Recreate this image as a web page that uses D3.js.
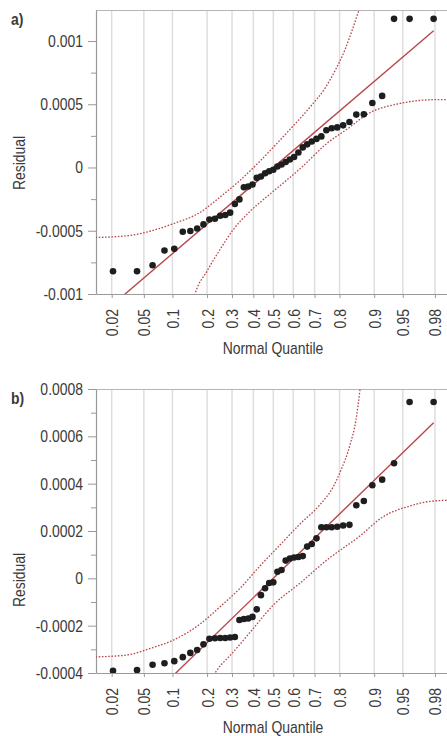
<!DOCTYPE html>
<html>
<head>
<meta charset="utf-8">
<title>Normal Quantile Plots</title>
<style>
  body { margin: 0; background: #fff; }
  svg text { font-family: "Liberation Sans", Arial, sans-serif; fill: #3a3a3a; }
</style>
</head>
<body>
<div id="chart"></div>
<script src="https://d3js.org/d3.v7.min.js"></script>
<script>
// x axis: normal quantile probabilities
const probTicks = [0.02, 0.05, 0.1, 0.2, 0.3, 0.4, 0.5, 0.6, 0.7, 0.8, 0.9, 0.95, 0.98];
const probLabels = ["0.02", "0.05", "0.1", "0.2", "0.3", "0.4", "0.5", "0.6", "0.7", "0.8", "0.9", "0.95", "0.98"];

// panel a) sorted residuals
const residualsA = [
  -0.00082, -0.00082, -0.000773, -0.000656, -0.000643, -0.000508, -0.000502, -0.000482,
  -0.00045, -0.000411, -0.000405, -0.000381, -0.000375, -0.000357, -0.000288, -0.000252,
  -0.000156, -0.00015, -0.000135, -0.000082, -0.000071, -0.000045, -0.00003, -0.000018,
  0.000008, 0.000024, 0.000044, 0.000063, 0.000083, 0.000119, 0.000159, 0.000183,
  0.000206, 0.000226, 0.000246, 0.000294, 0.00031, 0.000317, 0.000333, 0.00036,
  0.000418, 0.00042, 0.00051, 0.000566, 0.001175, 0.001175, 0.001175
];
const fitA = { mean: 0, sd: 0.000531 };
// confidence bands [normal quantile, residual]
const upperA = [
  [-2.26, -0.000553], [-1.86, -0.00054], [-1.57, -0.000504], [-1.27, -0.000444],
  [-0.93, -0.000355], [-0.68, -0.000235], [-0.42, -0.0001], [-0.17, 0.00005],
  [0, 0.00016], [0.21, 0.0003], [0.47, 0.00048], [0.66, 0.00063], [0.78, 0.00076],
  [0.91, 0.00093], [1.01, 0.0011], [1.09, 0.001246], [1.12, 0.0013]
];
const lowerA = [
  [-1.02, -0.00106], [-0.995, -0.001002], [-0.84, -0.000817], [-0.68, -0.000651],
  [-0.51, -0.000492], [-0.30, -0.000349], [-0.08, -0.00023], [0.17, -0.0001],
  [0.34, -0.00001], [0.68, 0.00019], [0.975, 0.00032], [1.19, 0.00042],
  [1.61, 0.000506], [2.03, 0.000536], [2.3, 0.000537]
];
const yTicksA = [-0.001, -0.0005, 0, 0.0005, 0.001];
const yLabelsA = ["-0.001", "-0.0005", "0", "0.0005", "0.001"];

// panel b) sorted residuals
const residualsB = [
  -0.000391, -0.000388, -0.000365, -0.000359, -0.00035, -0.000333, -0.000315, -0.000303,
  -0.000279, -0.000255, -0.000253, -0.000252, -0.000252, -0.00025, -0.000248, -0.000176,
  -0.000172, -0.00017, -0.000163, -0.000131, -0.000071, -0.000042, -0.00002, -0.000017,
  0.000028, 0.000035, 0.000075, 0.000084, 0.000088, 0.00009, 0.000094, 0.000134,
  0.000145, 0.000169, 0.000216, 0.000216, 0.000216, 0.000218, 0.000223, 0.000226,
  0.000309, 0.000327, 0.000393, 0.000417, 0.000486, 0.000745, 0.000745
];
const fitB = { mean: 0, sd: 0.000323 };
const upperB = [
  [-2.26, -0.000332], [-1.86, -0.000324], [-1.57, -0.000297], [-1.27, -0.000261],
  [-0.93, -0.000193], [-0.68, -0.000121], [-0.42, -0.000041], [-0.17, 0.000052],
  [0.085, 0.000141], [0.34, 0.00023], [0.59, 0.00031], [0.76, 0.000386],
  [0.85, 0.00045], [0.975, 0.000564], [1.05, 0.000669], [1.1, 0.000792], [1.12, 0.00085]
];
const lowerB = [
  [-0.78, -0.00042], [-0.716, -0.000388], [-0.51, -0.000312], [-0.26, -0.000214],
  [0, -0.000113], [0.34, -0.00002], [0.68, 0.000077], [1.1, 0.000179],
  [1.39, 0.000259], [1.74, 0.000306], [1.99, 0.000325], [2.3, 0.000331]
];
const yTicksB = [-0.0004, -0.0002, 0, 0.0002, 0.0004, 0.0006, 0.0008];
const yLabelsB = ["-0.0004", "-0.0002", "0", "0.0002", "0.0004", "0.0006", "0.0008"];

// inverse standard normal CDF (Acklam)
function qnorm(p) {
  const a = [-3.969683028665376e+01, 2.209460984245205e+02, -2.759285104469687e+02, 1.383577518672690e+02, -3.066479806614716e+01, 2.506628277459239e+00];
  const b = [-5.447609879822406e+01, 1.615858368580409e+02, -1.556989798598866e+02, 6.680131188771720e+01, -1.328068155288572e+01];
  const c = [-7.784894002430293e-03, -3.223964580411365e-01, -2.400758277161838e+00, -2.549732539343734e+00, 4.374664141464968e+00, 2.938163982698783e+00];
  const d = [7.784695709041462e-03, 3.224671290700398e-01, 2.445134137142996e+00, 3.754408661907416e+00];
  const pl = 0.02425;
  let q, r;
  if (p < pl) {
    q = Math.sqrt(-2 * Math.log(p));
    return (((((c[0]*q+c[1])*q+c[2])*q+c[3])*q+c[4])*q+c[5]) / ((((d[0]*q+d[1])*q+d[2])*q+d[3])*q+1);
  }
  if (p > 1 - pl) {
    q = Math.sqrt(-2 * Math.log(1 - p));
    return -(((((c[0]*q+c[1])*q+c[2])*q+c[3])*q+c[4])*q+c[5]) / ((((d[0]*q+d[1])*q+d[2])*q+d[3])*q+1);
  }
  q = p - 0.5; r = q * q;
  return (((((a[0]*r+a[1])*r+a[2])*r+a[3])*r+a[4])*r+a[5])*q / (((((b[0]*r+b[1])*r+b[2])*r+b[3])*r+b[4])*r+1);
}

const W = 447, H = 736;
const left = 96, zMin = -2.253, zMax = 2.3, pxPerZ = 78.7;
const red = "#b8474c";

let svg = d3.select("#chart").append("svg")
  .attr("width", W)
  .attr("height", H);

function drawPanel(opt) {
  let x = d3.scaleLinear()
    .domain([zMin, zMax])
    .range([left, left + (zMax - zMin) * pxPerZ]);
  let y = d3.scaleLinear()
    .domain(opt.yDomain)
    .range([opt.bottom, opt.top]);

  let g = svg.append("g");
  let zTicks = probTicks.map(qnorm);

  // vertical grid
  g.append("g").selectAll("line")
    .data(zTicks)
    .enter().append("line")
    .attr("x1", d => x(d)).attr("x2", d => x(d))
    .attr("y1", opt.top).attr("y2", opt.bottom)
    .attr("stroke", "#dedede")
    .attr("stroke-width", 1.5);

  // top border
  g.append("line")
    .attr("x1", left).attr("x2", W)
    .attr("y1", opt.top + 0.5).attr("y2", opt.top + 0.5)
    .attr("stroke", "#b5b5b5");

  // y axis with minor ticks
  let minor = d3.range(opt.yTicks.length - 1).map(i => (opt.yTicks[i] + opt.yTicks[i + 1]) / 2);
  if (opt.yDomain[1] > opt.yTicks[opt.yTicks.length - 1] + (opt.yTicks[1] - opt.yTicks[0]) / 2) {
    minor.push(opt.yTicks[opt.yTicks.length - 1] + (opt.yTicks[1] - opt.yTicks[0]) / 2);
  }
  g.append("g")
    .attr("transform", "translate(" + left + ",0)")
    .call(d3.axisLeft(y).tickValues(minor).tickSize(5).tickFormat("").tickSizeOuter(0))
    .call(a => a.select(".domain").remove())
    .call(a => a.selectAll("line").attr("stroke", "#999"));
  let ya = g.append("g")
    .attr("transform", "translate(" + left + ",0)")
    .call(d3.axisLeft(y).tickValues(opt.yTicks).tickSize(8).tickPadding(5).tickSizeOuter(0)
      .tickFormat((d, i) => opt.yLabels[i]));
  ya.select(".domain").attr("stroke", "#999").attr("stroke-width", 1.2);
  ya.selectAll("line").attr("stroke", "#999");
  ya.selectAll("text").attr("font-size", 17).attr("font-family", null).attr("fill", "#3a3a3a");

  // x axis
  let xa = g.append("g")
    .attr("transform", "translate(0," + opt.bottom + ")")
    .call(d3.axisBottom(x).tickValues(zTicks).tickSize(4).tickSizeOuter(0)
      .tickFormat((d, i) => probLabels[i]));
  xa.select(".domain").attr("stroke", "#999").attr("stroke-width", 1.2);
  xa.selectAll("line").attr("stroke", "#999");
  xa.selectAll("text")
    .attr("font-size", 17).attr("font-family", null).attr("fill", "#3a3a3a")
    .attr("transform", "rotate(-90)")
    .attr("text-anchor", "end")
    .attr("x", -15).attr("y", 0).attr("dy", "0.35em");

  // axis titles
  g.append("text")
    .attr("x", 273).attr("y", opt.bottom + 60)
    .attr("text-anchor", "middle")
    .attr("font-size", 17)
    .text("Normal Quantile");
  g.append("text")
    .attr("transform", "translate(25," + opt.titleY + ") rotate(-90)")
    .attr("text-anchor", "middle")
    .attr("font-size", 17)
    .text("Residual");
  g.append("text")
    .attr("x", 11).attr("y", opt.top + 15)
    .attr("font-size", 17).attr("font-weight", "bold")
    .attr("fill", "#222")
    .text(opt.tag);

  // plot area clip
  let clipId = "clip-" + opt.tag.replace(")", "");
  svg.append("clipPath").attr("id", clipId)
    .append("rect")
    .attr("x", left).attr("y", opt.top)
    .attr("width", W - left).attr("height", opt.bottom - opt.top);
  let plot = g.append("g").attr("clip-path", "url(#" + clipId + ")");

  let n = opt.residuals.length;
  let pts = opt.residuals.map((v, i) => ({ z: qnorm((i + 1) / (n + 1)), v: v }));

  // fitted line
  let ends = [pts[0].z, pts[n - 1].z];
  plot.append("path")
    .datum(ends)
    .attr("fill", "none")
    .attr("stroke", red)
    .attr("stroke-width", 1.4)
    .attr("d", d3.line().x(d => x(d)).y(d => y(opt.fit.mean + opt.fit.sd * d)));

  // confidence bands
  let band = d3.line().curve(d3.curveMonotoneX).x(d => x(d[0])).y(d => y(d[1]));
  [opt.upper, opt.lower].forEach(b => {
    plot.append("path")
      .datum(b)
      .attr("fill", "none")
      .attr("stroke", red)
      .attr("stroke-width", 1.3)
      .attr("stroke-dasharray", "1.6,1.6")
      .attr("d", band);
  });

  // points
  plot.selectAll("circle")
    .data(pts)
    .enter().append("circle")
    .attr("cx", d => x(d.z))
    .attr("cy", d => y(d.v))
    .attr("r", 3.3)
    .attr("fill", "#1e1e1e");
}

drawPanel({
  tag: "a)", top: 10, bottom: 294, yDomain: [-0.001, 0.001245],
  yTicks: yTicksA, yLabels: yLabelsA, titleY: 163,
  residuals: residualsA, fit: fitA, upper: upperA, lower: lowerA
});
drawPanel({
  tag: "b)", top: 389, bottom: 673, yDomain: [-0.0004, 0.0008],
  yTicks: yTicksB, yLabels: yLabelsB, titleY: 580,
  residuals: residualsB, fit: fitB, upper: upperB, lower: lowerB
});

// squeeze text to a narrow face
svg.selectAll("text").each(function() {
  let w = this.getComputedTextLength();
  if (w > 0) {
    this.setAttribute("textLength", w * 0.82);
    this.setAttribute("lengthAdjust", "spacingAndGlyphs");
  }
});
</script>
</body>
</html>
